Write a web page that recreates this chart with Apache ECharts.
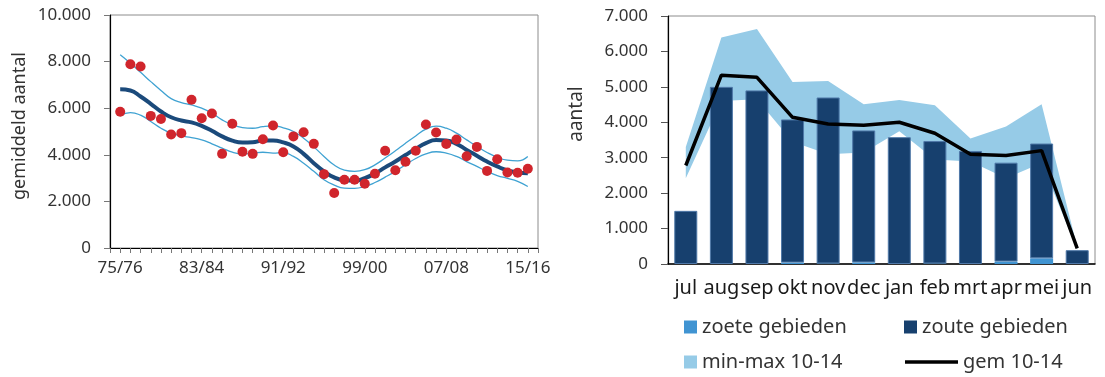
<!DOCTYPE html>
<html>
<head>
<meta charset="utf-8">
<script src="https://cdn.jsdelivr.net/npm/echarts@6.0.0/dist/echarts.min.js"></script>
<style>
  html, body { margin: 0; padding: 0; background: #fff; }
  #main { width: 1105px; height: 377px; }
</style>
</head>
<body>
<div id="main"></div>
<script>
// seizoenen (links)
var seasons = ['75/76', '76/77', '77/78', '78/79', '79/80', '80/81', '81/82', '82/83', '83/84', '84/85',
  '85/86', '86/87', '87/88', '88/89', '89/90', '90/91', '91/92', '92/93', '93/94', '94/95',
  '95/96', '96/97', '97/98', '98/99', '99/00', '00/01', '01/02', '02/03', '03/04', '04/05',
  '05/06', '06/07', '07/08', '08/09', '09/10', '10/11', '11/12', '12/13', '13/14', '14/15', '15/16'];
// gemiddeld aantal per seizoen (rode punten)
var counts = [5850, 7890, 7790, 5670, 5540, 4870, 4930, 6360, 5570, 5770,
  4040, 5330, 4130, 4040, 4670, 5260, 4110, 4790, 4970, 4470,
  3170, 2360, 2930, 2930, 2760, 3190, 4170, 3340, 3700, 4170,
  5300, 4960, 4460, 4660, 3940, 4340, 3310, 3810, 3240, 3230, 3400];
// trend
var trend = [6810, 6760, 6500, 6190, 5860, 5610, 5470, 5390, 5240, 5030,
  4790, 4610, 4530, 4540, 4610, 4610, 4530, 4360, 4040, 3640,
  3290, 3030, 2910, 2890, 3000, 3200, 3460, 3710, 3990, 4260,
  4500, 4630, 4610, 4470, 4210, 3960, 3710, 3500, 3330, 3240, 3210];
// betrouwbaarheidsband
var upper = [8290, 7930, 7540, 7140, 6760, 6410, 6240, 6140, 6000, 5790,
  5500, 5290, 5170, 5140, 5210, 5240, 5160, 5000, 4710, 4340,
  3930, 3560, 3340, 3290, 3360, 3570, 3860, 4170, 4500, 4810,
  5100, 5230, 5140, 4930, 4640, 4360, 4100, 3900, 3770, 3740, 3930];
var lower = [5670, 5810, 5700, 5430, 5140, 4930, 4810, 4740, 4640, 4470,
  4290, 4110, 4040, 4070, 4110, 4070, 4090, 3930, 3640, 3290,
  2930, 2700, 2570, 2560, 2640, 2810, 3040, 3290, 3570, 3840,
  4040, 4130, 4070, 3930, 3710, 3500, 3290, 3110, 2990, 2860, 2640];

// maanden (rechts)
var months = ['jul', 'aug', 'sep', 'okt', 'nov', 'dec', 'jan', 'feb', 'mrt', 'apr', 'mei', 'jun'];
var zoete = [0, 0, 0, 40, 15, 45, 0, 15, 0, 70, 160, 0];
var zoute = [1500, 5000, 4900, 4040, 4685, 3725, 3580, 3455, 3190, 2790, 3240, 390];
var min1014 = [2420, 4600, 4650, 3450, 3100, 3150, 3750, 2950, 2890, 2420, 2850, 400];
var max1014 = [3300, 6390, 6630, 5140, 5165, 4510, 4630, 4480, 3540, 3880, 4510, 470];
var gem1014 = [2780, 5330, 5270, 4140, 3950, 3915, 4000, 3690, 3100, 3060, 3200, 440];

var FONT = 'Noto Sans';
function thousands(v) {
  return String(v).replace(/\B(?=(\d{3})+(?!\d))/g, '.');
}
// lege categorie voor en na de reeks (zoals in het origineel)
var xCats = [''].concat(seasons, ['']);
function pad(arr) { return [null].concat(arr, [null]); }
var spread = max1014.map(function (v, i) { return v - min1014[i]; });

var chart = echarts.init(document.getElementById('main'), null, { renderer: 'canvas' });

var axisTxt = { color: '#333', fontSize: 17, fontFamily: FONT };
var legTxt = { fontSize: 20, color: '#333', fontFamily: FONT };

var option = {
  animation: false,
  backgroundColor: '#fff',
  textStyle: { fontFamily: FONT },
  grid: [
    { left: 110, top: 15, width: 428, height: 233, show: true, borderColor: '#8c8c8c', borderWidth: 1 },
    { left: 668, top: 16, width: 427, height: 248, show: true, borderColor: '#8c8c8c', borderWidth: 1 }
  ],
  graphic: [
    { type: 'text', x: 20, y: 126, rotation: Math.PI / 2,
      style: { text: 'gemiddeld aantal', fill: '#333', font: '18px "Noto Sans"', textAlign: 'center', textVerticalAlign: 'middle' } },
    { type: 'text', x: 577, y: 114, rotation: Math.PI / 2,
      style: { text: 'aantal', fill: '#333', font: '19px "Noto Sans"', textAlign: 'center', textVerticalAlign: 'middle' } }
  ],
  legend: [
    { data: [{ name: 'zoete gebieden', icon: 'rect' }], left: 684, top: 317, padding: 0,
      itemWidth: 13, itemHeight: 13, itemStyle: { borderWidth: 0 }, textStyle: legTxt },
    { data: [{ name: 'zoute gebieden', icon: 'rect' }], left: 904, top: 317, padding: 0,
      itemWidth: 13, itemHeight: 13, itemStyle: { borderWidth: 0 }, textStyle: legTxt },
    { data: [{ name: 'min-max 10-14', icon: 'rect' }], left: 684, top: 352, padding: 0,
      itemWidth: 13, itemHeight: 13, itemStyle: { borderWidth: 0 }, textStyle: legTxt },
    { data: [{ name: 'gem 10-14', icon: 'rect' }], left: 905, top: 352, padding: 0,
      itemWidth: 53, itemHeight: 3.5, itemStyle: { borderWidth: 0 }, textStyle: legTxt }
  ],
  xAxis: [
    {
      type: 'category', gridIndex: 0, data: xCats, boundaryGap: false,
      axisLine: { lineStyle: { color: '#000', width: 1.2 } },
      axisTick: { interval: 0, length: 5, lineStyle: { color: '#777' } },
      axisLabel: Object.assign({
        margin: 12,
        interval: function (i) { return i >= 1 && (i - 1) % 8 === 0; }
      }, axisTxt),
      splitLine: { show: false }
    },
    {
      type: 'category', gridIndex: 1, data: months, boundaryGap: true,
      axisLine: { lineStyle: { color: '#000', width: 1.5 } },
      axisTick: { interval: 0, length: 6, lineStyle: { color: '#333' } },
      axisLabel: { interval: 0, margin: 14, color: '#1a1a1a', fontSize: 20, fontFamily: FONT },
      splitLine: { show: false }
    }
  ],
  yAxis: [
    {
      type: 'value', gridIndex: 0, min: 0, max: 10000, interval: 2000,
      axisLine: { show: true, lineStyle: { color: '#000', width: 1.2 } },
      axisTick: { show: true, length: 6, lineStyle: { color: '#777' } },
      axisLabel: Object.assign({ margin: 19, formatter: thousands }, axisTxt),
      splitLine: { show: false }
    },
    {
      type: 'value', gridIndex: 1, min: 0, max: 7000, interval: 1000,
      axisLine: { show: true, lineStyle: { color: '#000', width: 1.2 } },
      axisTick: { show: true, length: 7, lineStyle: { color: '#555' } },
      axisLabel: Object.assign({ margin: 20, formatter: thousands }, axisTxt),
      splitLine: { show: false }
    }
  ],
  series: [
    // links
    { name: 'boven', type: 'line', xAxisIndex: 0, yAxisIndex: 0, data: pad(upper), smooth: true,
      symbol: 'none', lineStyle: { color: '#3fa2d2', width: 1.3 }, z: 2 },
    { name: 'onder', type: 'line', xAxisIndex: 0, yAxisIndex: 0, data: pad(lower), smooth: true,
      symbol: 'none', lineStyle: { color: '#3fa2d2', width: 1.3 }, z: 2 },
    { name: 'trend', type: 'line', xAxisIndex: 0, yAxisIndex: 0, data: pad(trend), smooth: true,
      symbol: 'none', lineStyle: { color: '#1b4a7b', width: 4 }, z: 3 },
    { name: 'aantal', type: 'scatter', xAxisIndex: 0, yAxisIndex: 0, data: pad(counts),
      symbolSize: 10, itemStyle: { color: '#d0252c', opacity: 1 }, z: 4 },
    // rechts
    { name: 'min', type: 'line', xAxisIndex: 1, yAxisIndex: 1, data: min1014, stack: 'mm',
      symbol: 'none', lineStyle: { width: 0, opacity: 0 }, z: 1 },
    { name: 'min-max 10-14', type: 'line', xAxisIndex: 1, yAxisIndex: 1, data: spread, stack: 'mm',
      symbol: 'none', lineStyle: { width: 0, opacity: 0 }, itemStyle: { color: '#96cbe7' },
      areaStyle: { color: '#96cbe7', opacity: 1 }, z: 1 },
    { name: 'zoete gebieden', type: 'bar', xAxisIndex: 1, yAxisIndex: 1, data: zoete, stack: 'b',
      barWidth: 23, itemStyle: { color: '#4094d2' }, z: 2 },
    { name: 'zoute gebieden', type: 'bar', xAxisIndex: 1, yAxisIndex: 1, data: zoute, stack: 'b',
      barWidth: 23, itemStyle: { color: '#17406e', borderColor: '#4f78a8', borderWidth: 1 }, z: 2 },
    { name: 'gem 10-14', type: 'line', xAxisIndex: 1, yAxisIndex: 1, data: gem1014,
      symbol: 'none', itemStyle: { color: '#000' }, lineStyle: { color: '#000', width: 3.5 }, z: 3 }
  ]
};

chart.setOption(option);
</script>
</body>
</html>
